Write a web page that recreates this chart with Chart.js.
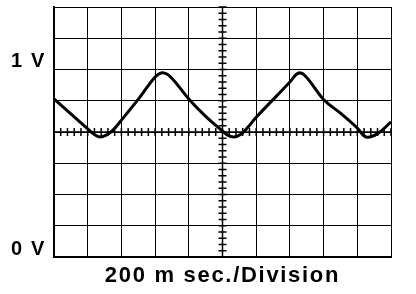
<!DOCTYPE html>
<html>
<head>
<meta charset="utf-8">
<script src="https://cdn.jsdelivr.net/npm/chart.js@4.4.0/dist/chart.umd.min.js"></script>
<style>
  html, body { margin: 0; padding: 0; background: #fff; }
  .scope-box { width: 416px; height: 294px; }
</style>
</head>
<body>
<div class="scope-box"><canvas id="scopeCanvas"></canvas></div>
<script>
// trace: time in ms (200 ms / division), level in volts (1 V = 6 divisions)
const timeMs = [0, 100, 200, 240, 272, 310, 350, 400, 510, 600, 640, 680, 740, 800, 900, 1000, 1030, 1068, 1110, 1144, 1200, 1320, 1400, 1448, 1490, 1600, 1700, 1800, 1852, 1920, 2000];
const volts = [0.843, 0.763, 0.683, 0.653, 0.640, 0.650, 0.677, 0.730, 0.853, 0.960, 0.983, 0.970, 0.910, 0.843, 0.750, 0.672, 0.650, 0.640, 0.655, 0.685, 0.745, 0.858, 0.933, 0.980, 0.967, 0.840, 0.767, 0.688, 0.640, 0.658, 0.720];
const voltLabels = ["0 V", "1 V"];
const timeLabel = "200 m sec./Division";

const MS_PER_DIV = 200;
const V_PER_DIV = 1 / 6;
const X_DIVS = 10;
const Y_DIVS = 8;
const FONT = "'Liberation Sans', Arial, sans-serif";

// small marks on the two centre lines, 5 per division
const scopeTicks = {
    id: "scopeTicks",
    beforeDraw(chart) {
        chart.ctx.letterSpacing = "1.7px";
    },
    beforeDatasetsDraw(chart) {
        const ctx = chart.ctx;
        const xs = chart.scales.x;
        const ys = chart.scales.y;
        const cx = xs.getPixelForValue(X_DIVS / 2 * MS_PER_DIV);
        const cy = ys.getPixelForValue(Y_DIVS / 2 * V_PER_DIV);
        ctx.save();
        ctx.strokeStyle = "#000";
        ctx.lineWidth = 1.5;
        ctx.beginPath();
        ctx.moveTo(xs.left, cy);
        ctx.lineTo(xs.right, cy);
        ctx.moveTo(cx, ys.top);
        ctx.lineTo(cx, ys.bottom);
        for (let i = 0; i <= X_DIVS * 5; i++) {
            const px = xs.getPixelForValue(i * MS_PER_DIV / 5);
            ctx.moveTo(px, cy - 4);
            ctx.lineTo(px, cy + 4);
        }
        for (let i = 0; i <= Y_DIVS * 5; i++) {
            const py = ys.getPixelForValue(i * V_PER_DIV / 5);
            ctx.moveTo(cx - 4, py);
            ctx.lineTo(cx + 4, py);
        }
        ctx.stroke();
        ctx.restore();
    }
};

const ctx = document.getElementById("scopeCanvas").getContext("2d");

new Chart(ctx, {
    type: "line",
    data: {
        datasets: [{
            data: timeMs.map((t, i) => ({ x: t, y: volts[i] })),
            borderColor: "#000",
            borderWidth: 3,
            pointRadius: 0,
            tension: 0.4,
            fill: false
        }]
    },
    options: {
        responsive: true,
        maintainAspectRatio: false,
        animation: false,
        layout: { padding: { top: 7, right: 25, left: 0, bottom: 0 } },
        plugins: {
            legend: { display: false },
            tooltip: { enabled: false }
        },
        scales: {
            x: {
                type: "linear",
                min: 0,
                max: X_DIVS * MS_PER_DIV,
                afterBuildTicks: (scale) => {
                    scale.ticks = [];
                    for (let i = 0; i <= X_DIVS; i++) scale.ticks.push({ value: i * MS_PER_DIV });
                },
                afterFit: (scale) => {
                    scale.height = 37;
                    scale.paddingLeft = 0;
                    scale.paddingRight = 0;
                },
                ticks: { display: false },
                grid: { color: "#000", lineWidth: 1, drawTicks: false },
                border: { color: "#000", width: 2 },
                title: {
                    display: true,
                    text: timeLabel,
                    color: "#000",
                    font: { family: FONT, size: 22, weight: "bold", lineHeight: 1.2 },
                    padding: { top: 0, bottom: 5 }
                }
            },
            y: {
                min: 0,
                max: Y_DIVS * V_PER_DIV,
                afterBuildTicks: (scale) => {
                    scale.ticks = [];
                    for (let i = 0; i <= Y_DIVS; i++) scale.ticks.push({ value: i * V_PER_DIV });
                },
                afterFit: (scale) => {
                    scale.width = 54;
                    scale.paddingTop = 0;
                    scale.paddingBottom = 0;
                },
                ticks: {
                    color: "#000",
                    font: { family: FONT, size: 20, weight: "bold" },
                    padding: 8,
                    labelOffset: -8,
                    callback: (value) => {
                        if (Math.abs(value) < 1e-6) return voltLabels[0];
                        if (Math.abs(value - 1) < 1e-6) return voltLabels[1];
                        return "";
                    }
                },
                grid: { color: "#000", lineWidth: 1, drawTicks: false },
                border: { color: "#000", width: 2 }
            }
        }
    },
    plugins: [scopeTicks]
});
</script>
</body>
</html>
